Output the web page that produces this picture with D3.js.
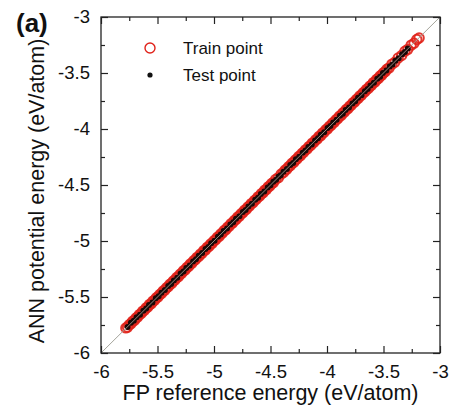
<!DOCTYPE html>
<html><head><meta charset="utf-8">
<script src="https://cdn.jsdelivr.net/npm/d3@7/dist/d3.min.js"></script>
<style>body{margin:0;background:#fff}svg{display:block;font-family:"Liberation Sans",Arial,sans-serif}</style>
</head><body><svg id="c" width="461" height="410"></svg>
<script>
const xTicks = [-6, -5.5, -5, -4.5, -4, -3.5, -3];
const yTicks = [-6, -5.5, -5, -4.5, -4, -3.5, -3];
const minorTicks = [-5.75, -5.25, -4.75, -4.25, -3.75, -3.25];
const trainFP = [-5.780,-5.765,-5.750,-5.735,-5.720,-5.705,-5.690,-5.675,-5.660,-5.645,-5.630,-5.615,-5.600,-5.585,-5.570,-5.555,-5.540,-5.525,-5.510,-5.495,-5.480,-5.465,-5.450,-5.435,-5.420,-5.405,-5.390,-5.375,-5.360,-5.345,-5.330,-5.315,-5.300,-5.285,-5.270,-5.255,-5.240,-5.225,-5.210,-5.195,-5.180,-5.165,-5.150,-5.135,-5.120,-5.105,-5.090,-5.075,-5.060,-5.045,-5.030,-5.015,-5.000,-4.985,-4.970,-4.955,-4.940,-4.925,-4.910,-4.895,-4.880,-4.865,-4.850,-4.835,-4.820,-4.805,-4.790,-4.775,-4.760,-4.745,-4.730,-4.715,-4.700,-4.685,-4.670,-4.655,-4.640,-4.625,-4.610,-4.595,-4.580,-4.565,-4.550,-4.535,-4.520,-4.505,-4.490,-4.475,-4.455,-4.430,-4.405,-4.385,-4.370,-4.355,-4.340,-4.325,-4.310,-4.295,-4.280,-4.265,-4.250,-4.235,-4.220,-4.205,-4.190,-4.175,-4.160,-4.145,-4.130,-4.115,-4.100,-4.085,-4.070,-4.055,-4.040,-4.025,-4.010,-3.995,-3.980,-3.965,-3.950,-3.935,-3.920,-3.905,-3.890,-3.875,-3.860,-3.845,-3.830,-3.815,-3.800,-3.785,-3.770,-3.755,-3.740,-3.725,-3.710,-3.695,-3.680,-3.665,-3.650,-3.635,-3.620,-3.605,-3.590,-3.575,-3.560,-3.545,-3.530,-3.515,-3.500,-3.485,-3.470,-3.450,-3.425,-3.400,-3.370,-3.340,-3.310,-3.285,-3.255,-3.230,-3.205,-3.185];
const trainANN = [-5.776,-5.769,-5.747,-5.738,-5.716,-5.709,-5.687,-5.679,-5.657,-5.648,-5.626,-5.619,-5.597,-5.588,-5.566,-5.559,-5.537,-5.528,-5.506,-5.499,-5.477,-5.468,-5.446,-5.439,-5.417,-5.408,-5.386,-5.379,-5.357,-5.348,-5.326,-5.319,-5.297,-5.288,-5.266,-5.259,-5.237,-5.228,-5.206,-5.199,-5.177,-5.168,-5.146,-5.139,-5.117,-5.108,-5.086,-5.079,-5.057,-5.048,-5.026,-5.019,-4.997,-4.988,-4.966,-4.959,-4.937,-4.928,-4.906,-4.899,-4.877,-4.868,-4.846,-4.839,-4.817,-4.808,-4.786,-4.779,-4.757,-4.748,-4.726,-4.719,-4.697,-4.688,-4.666,-4.659,-4.637,-4.628,-4.606,-4.599,-4.577,-4.568,-4.546,-4.539,-4.517,-4.508,-4.486,-4.479,-4.451,-4.434,-4.402,-4.388,-4.366,-4.359,-4.337,-4.328,-4.306,-4.299,-4.277,-4.268,-4.246,-4.239,-4.217,-4.208,-4.186,-4.179,-4.157,-4.148,-4.126,-4.119,-4.097,-4.088,-4.066,-4.059,-4.037,-4.028,-4.006,-3.999,-3.977,-3.968,-3.946,-3.939,-3.917,-3.908,-3.886,-3.879,-3.857,-3.848,-3.826,-3.819,-3.797,-3.788,-3.766,-3.759,-3.737,-3.728,-3.706,-3.699,-3.677,-3.668,-3.646,-3.639,-3.617,-3.608,-3.586,-3.579,-3.557,-3.548,-3.526,-3.519,-3.497,-3.488,-3.466,-3.454,-3.421,-3.404,-3.366,-3.344,-3.306,-3.289,-3.251,-3.234,-3.201,-3.188];
const testFP = [-5.765,-5.735,-5.71,-5.685,-5.655,-5.625,-5.60,-5.575,-5.545,-5.515,-5.49,-5.465,-5.435,-5.405,-5.38,-5.355,-5.325,-5.295,-5.27,-5.245,-5.215,-5.185,-5.16,-5.135,-5.105,-5.075,-5.05,-5.025,-4.995,-4.965,-4.94,-4.915,-4.885,-4.855,-4.83,-4.805,-4.775,-4.745,-4.72,-4.695,-4.665,-4.635,-4.61,-4.585,-4.555,-4.525,-4.50,-4.475,-4.45,-4.43,-4.41,-4.385,-4.355,-4.325,-4.30,-4.275,-4.245,-4.215,-4.19,-4.165,-4.135,-4.105,-4.08,-4.055,-4.025,-3.995,-3.97,-3.945,-3.915,-3.885,-3.86,-3.835,-3.805,-3.775,-3.75,-3.725,-3.695,-3.665,-3.64,-3.615,-3.585,-3.555,-3.53,-3.505,-3.475,-3.445,-3.42,-3.395,-3.365,-3.335,-3.31,-3.285];
const testANN = [-5.768,-5.731,-5.713,-5.681,-5.658,-5.622,-5.603,-5.571,-5.548,-5.512,-5.494,-5.461,-5.438,-5.402,-5.384,-5.352,-5.328,-5.291,-5.273,-5.242,-5.218,-5.182,-5.163,-5.131,-5.108,-5.072,-5.053,-5.021,-4.998,-4.962,-4.943,-4.911,-4.888,-4.852,-4.833,-4.801,-4.778,-4.742,-4.723,-4.691,-4.668,-4.632,-4.613,-4.581,-4.558,-4.522,-4.503,-4.471,-4.453,-4.427,-4.413,-4.381,-4.358,-4.322,-4.303,-4.271,-4.248,-4.212,-4.193,-4.161,-4.138,-4.102,-4.083,-4.051,-4.028,-3.992,-3.973,-3.941,-3.918,-3.882,-3.863,-3.831,-3.808,-3.772,-3.753,-3.721,-3.698,-3.662,-3.643,-3.611,-3.588,-3.552,-3.533,-3.501,-3.478,-3.442,-3.423,-3.391,-3.368,-3.332,-3.313,-3.281];
const legendLabels = ["Train point", "Test point"];

const svg = d3.select("#c");
const L = 101, R = 440, T = 17, B = 353;
const x = d3.scaleLinear().domain([-6, -3]).range([L, R]);
const y = d3.scaleLinear().domain([-6, -3]).range([B, T]);
const tickFmt = d => d3.format("")(d).replace("−", "-");
const FONT = "'Liberation Sans', Arial, sans-serif";

const train = trainFP.map((v, i) => [v, trainANN[i]]);
const test = testFP.map((v, i) => [v, testANN[i]]);

svg.append("g").selectAll("circle").data(train).join("circle")
  .attr("cx", d => x(d[0])).attr("cy", d => y(d[1])).attr("r", 4.7)
  .attr("fill", "none").attr("stroke", "#e0221a").attr("stroke-width", 2).attr("stroke-opacity", 0.9);
svg.append("g").selectAll("circle").data(test).join("circle")
  .attr("cx", d => x(d[0])).attr("cy", d => y(d[1])).attr("r", 3)
  .attr("fill", "#1a0806");

// diagonal y = x (drawn over the points)
svg.append("line").attr("x1", x(-6)).attr("y1", y(-6)).attr("x2", x(-3)).attr("y2", y(-3))
  .attr("stroke", "#9a9a90").attr("stroke-width", 0.9);

// frame
svg.append("rect").attr("x", L).attr("y", T).attr("width", R - L).attr("height", B - T)
  .attr("fill", "none").attr("stroke", "#222").attr("stroke-width", 1.3);

function axis(gen, tr) {
  const g = svg.append("g").attr("transform", tr).call(gen);
  g.select(".domain").remove();
  g.selectAll(".tick line").attr("stroke", "#222").attr("stroke-width", 1.2);
  g.selectAll("text").attr("font-size", 18.5).attr("fill", "#111").attr("font-family", FONT);
  return g;
}
axis(d3.axisBottom(x).tickValues(xTicks).tickSize(-7).tickPadding(12).tickFormat(tickFmt), `translate(0,${B})`);
axis(d3.axisLeft(y).tickValues(yTicks).tickSize(-7).tickPadding(11).tickFormat(tickFmt), `translate(${L},0)`);
axis(d3.axisTop(x).tickValues(xTicks).tickSize(-7).tickFormat(""), `translate(0,${T})`);
axis(d3.axisRight(y).tickValues(yTicks).tickSize(-7).tickFormat(""), `translate(${R},0)`);
axis(d3.axisBottom(x).tickValues(minorTicks).tickSize(-4).tickFormat(""), `translate(0,${B})`);
axis(d3.axisLeft(y).tickValues(minorTicks).tickSize(-4).tickFormat(""), `translate(${L},0)`);
axis(d3.axisTop(x).tickValues(minorTicks).tickSize(-4).tickFormat(""), `translate(0,${T})`);
axis(d3.axisRight(y).tickValues(minorTicks).tickSize(-4).tickFormat(""), `translate(${R},0)`);

// axis titles
svg.append("text").attr("x", (L + R) / 2).attr("y", 400).attr("text-anchor", "middle")
  .attr("font-size", 21.5).attr("fill", "#111").text("FP reference energy (eV/atom)");
svg.append("text").attr("transform", `translate(44,191) rotate(-90)`).attr("text-anchor", "middle")
  .attr("font-size", 21.5).attr("fill", "#111").text("ANN potential energy (eV/atom)");
svg.append("text").attr("x", 16).attr("y", 32).attr("font-size", 26).attr("font-weight", "bold")
  .attr("fill", "#111").text("(a)");

// legend
const lg = svg.append("g");
lg.append("circle").attr("cx", 150).attr("cy", 48).attr("r", 5).attr("fill", "none")
  .attr("stroke", "#e0221a").attr("stroke-width", 1.4);
lg.append("circle").attr("cx", 150).attr("cy", 75).attr("r", 2.6).attr("fill", "#111");
lg.append("text").attr("x", 183).attr("y", 54).attr("font-size", 17).attr("fill", "#111").text(legendLabels[0]);
lg.append("text").attr("x", 183).attr("y", 81).attr("font-size", 17).attr("fill", "#111").text(legendLabels[1]);
</script></body></html>
